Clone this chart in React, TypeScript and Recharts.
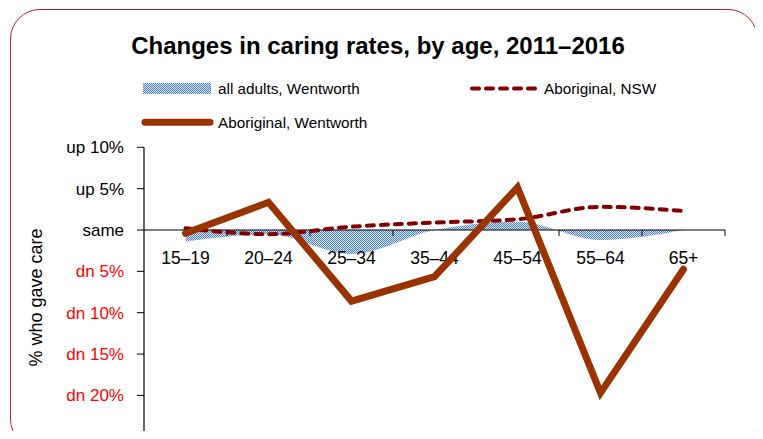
import { Area, ComposedChart, Line, ReferenceLine, XAxis, YAxis } from 'recharts';

const ages = ['15–19', '20–24', '25–34', '35–44', '45–54', '55–64', '65+'];
const allAdultsWentworth = [-1.4, -0.5, -2.9, 0, 1.0, -1.2, 0];
const aboriginalNsw = [0.2, -0.5, 0.4, 0.9, 1.3, 2.8, 2.3];
const aboriginalWentworth = [-0.4, 3.35, -8.6, -5.65, 5.15, -19.7, -4.75];
const yTicks = [10, 5, 0, -5, -10, -15, -20, -25, -30];
const yTickLabels = ['up 10%', 'up 5%', 'same', 'dn 5%', 'dn 10%', 'dn 15%', 'dn 20%', 'dn 25%', 'dn 30%'];

const FONT = '"Liberation Sans", Arial, sans-serif';
const BROWN = '#993300';
const MAROON = '#800000';

const data = ages.map((age, i) => ({
  age,
  allAdults: allAdultsWentworth[i],
  nsw: aboriginalNsw[i],
  wentworth: aboriginalWentworth[i],
}));

function DotPattern({ id }: { id: string }) {
  return (
    <pattern id={id} width={2} height={2} patternUnits="userSpaceOnUse">
      <rect width={2} height={2} fill="#dbe6f6" />
      <rect width={1} height={1} fill="#4a7fc8" />
      <rect x={1} y={1} width={1} height={1} fill="#4a7fc8" />
    </pattern>
  );
}

function YTick(props: any) {
  const { x, y, payload } = props;
  const i = yTicks.indexOf(payload.value);
  return (
    <text x={x} y={y} dy="0.355em" textAnchor="end" fontSize={17} fontFamily={FONT}
      fill={payload.value < 0 ? '#ff0000' : '#000'}>
      {yTickLabels[i]}
    </text>
  );
}

// axis line at zero, with tick marks between age groups and the labels under it
function ZeroAxis(props: any) {
  const { x1, x2, y1 } = props;
  const left = Math.min(x1, x2);
  const right = Math.max(x1, x2);
  const band = (right - left) / ages.length;
  return (
    <g>
      <line x1={left} x2={right} y1={y1} y2={y1} stroke="#000" strokeWidth={1.2} />
      {ages.map((a, i) => (
        <line key={'t' + a} x1={left + band * (i + 1)} x2={left + band * (i + 1)} y1={y1} y2={y1 + 6}
          stroke="#000" strokeWidth={1} />
      ))}
      {ages.map((a, i) => (
        <text key={a} x={left + band * (i + 0.5)} y={y1 + 33.5} textAnchor="middle" fontSize={17.5}
          fontFamily={FONT} fill="#000">
          {a}
        </text>
      ))}
    </g>
  );
}

export default function App() {
  return (
    <div style={{ position: 'relative', width: 763, height: 439, margin: -8, overflow: 'hidden', background: '#fff' }}>
      <div style={{
        position: 'absolute', left: 10, top: 9, width: 746, height: 438,
        border: '1.5px solid #b3262b', borderRadius: 30,
      }} />
      <svg width={763} height={439} style={{ position: 'absolute', left: 0, top: 0 }}>
        <defs>
          <DotPattern id="legendDots" />
        </defs>
        <text x={378} y={53.5} textAnchor="middle" fontSize={24} fontWeight="bold" fontFamily={FONT} fill="#000">
          Changes in caring rates, by age, 2011–2016
        </text>
        <rect x={143} y={83} width={68} height={11} fill="url(#legendDots)" />
        <text x={218} y={94} fontSize={15.3} fontFamily={FONT} fill="#000">all adults, Wentworth</text>
        <line x1={472} x2={536} y1={88.5} y2={88.5} stroke={MAROON} strokeWidth={4}
          strokeDasharray="7 7" strokeLinecap="round" />
        <text x={544} y={94.3} fontSize={15.3} fontFamily={FONT} fill="#000">Aboriginal, NSW</text>
        <line x1={145} x2={210} y1={122.3} y2={122.3} stroke={BROWN} strokeWidth={7} strokeLinecap="round" />
        <text x={218} y={127.5} fontSize={15.3} fontFamily={FONT} fill="#000">Aboriginal, Wentworth</text>
        <text transform="translate(42,297.5) rotate(-90)" textAnchor="middle" fontSize={18} fontFamily={FONT} fill="#000">
          % who gave care
        </text>
      </svg>
      <div style={{ position: 'absolute', left: 0, top: 0 }}>
        <ComposedChart width={763} height={490} data={data}
          margin={{ top: 147.3, right: 38, bottom: 11.9, left: 64 }}>
          <defs>
            <DotPattern id="areaDots" />
          </defs>
          <XAxis dataKey="age" hide padding={{ left: 41.5, right: 41.5 }} />
          <YAxis width={80} domain={[-30, 10]} ticks={yTicks} interval={0} allowDataOverflow
            tick={<YTick />} tickSize={7} tickMargin={13}
            axisLine={{ stroke: '#000', strokeWidth: 1.2 }} tickLine={{ stroke: '#000' }} />
          <Area dataKey="allAdults" type="monotone" baseValue={0} stroke="none" fill="url(#areaDots)"
            fillOpacity={1} isAnimationActive={false} dot={false} activeDot={false} />
          <ReferenceLine y={0} shape={<ZeroAxis />} />
          <Line dataKey="nsw" type="monotone" stroke={MAROON} strokeWidth={4} strokeDasharray="7 7"
            strokeLinecap="round" dot={false} activeDot={false} isAnimationActive={false} />
          <Line dataKey="wentworth" type="linear" stroke={BROWN} strokeWidth={7} strokeLinejoin="miter"
            strokeLinecap="round" dot={false} activeDot={false} isAnimationActive={false} />
        </ComposedChart>
      </div>
    </div>
  );
}
